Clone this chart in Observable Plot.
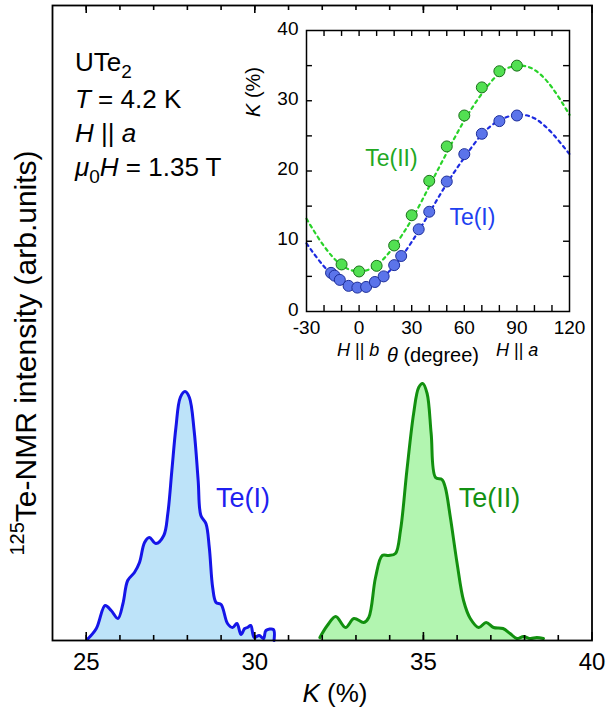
<!DOCTYPE html>
<html><head><meta charset="utf-8">
<script src="https://cdn.jsdelivr.net/npm/d3@7"></script>
<script src="https://cdn.jsdelivr.net/npm/@observablehq/plot@0.6"></script>
<style>
body{margin:0;background:#fff;font-family:Arial,"Liberation Sans",sans-serif;}
#wrap{position:relative;width:607px;height:713px;overflow:hidden}
#main{position:absolute;left:0;top:0}
#inset{position:absolute;left:250px;top:0}
</style></head><body>
<div id="wrap"><div id="main"></div><div id="inset"></div></div>
<script>
// ---- Main spectra (K in %, intensity in arb. units) ----
const te1K = [25.03,25.30,25.56,25.74,25.94,26.09,26.23,26.43,26.58,26.73,26.87,27.07,27.30,27.42,27.54,27.66,27.79,27.93,28.06,28.20,28.32,28.40,28.55,28.65,28.75,28.85,29.00,29.19,29.34,29.47,29.59,29.70,29.78,29.88,29.98,30.13,30.26,30.33,30.55,30.57];
const te1I = [1,12,35,30,22,37,60,68,78,98,103,97,105,127,170,213,243,249,243,210,160,125,117,93,53,38,36,17,13,17,6,12,13,15,3,5,2,10,11,0];
const te2K = [31.93,32.15,32.40,32.69,32.94,33.23,33.38,33.58,33.78,33.97,34.17,34.32,34.51,34.71,34.86,34.98,35.11,35.23,35.36,35.55,35.65,35.80,36.00,36.19,36.39,36.64,36.86,37.08,37.36,37.57,37.77,37.97,38.17,38.36,38.56];
const te2I = [3,15,24,13,22,18,23,63,85,85,87,110,170,227,253,257,247,207,163,161,153,123,77,40,22,13,18,13,12,7,2,4,2,3,2];
const mainTicksMajor = [25,30,35,40];
const mainTicksMinor = [25,26,27,28,29,30,31,32,33,34,35,36,37,38,39];
const specLabels = ["Te(I)","Te(II)"];
const specLabelK = [28.85,36.05];
const specLabelI = [142,142];

// ---- Inset: K vs theta ----
const thetaI = [-16,-14,-11,-6,-1,4,9,14,20,24,34,40,50,60,70,80,90];
const kI = [5.5,5.1,4.5,3.65,3.4,3.5,4.2,5.0,6.6,7.9,11.7,14.2,18.5,22.4,25.3,27.1,27.9];
const thetaII = [-10,0,10,20,30,40,50,60,70,80,90];
const kII = [6.7,5.7,6.5,9.4,13.7,18.6,23.5,27.9,31.9,34.2,35.0];
const fitTheta = [-30,-20,-10,0,10,20,30,40,50,60,70,80,90,100,110,120];
const fitI = [9.7,6.4,4.2,3.4,4.2,6.5,9.9,14.0,18.2,21.9,25.2,27.2,28.0,27.5,25.4,22.4];
const fitII = [13.2,9.3,6.6,5.7,6.6,9.3,13.1,17.8,22.6,27.2,31.0,33.9,35.0,34.4,31.9,28.0];
const insetXTicks = [-30,0,30,60,90,120];
const insetXMinor = [-20,-10,0,10,20,30,40,50,60,70,80,90,100,110];
const insetYTicks = [0,10,20,30,40];
const insetYMinor = [5,10,15,20,25,30,35];
const insetLabels = ["Te(II)","Te(I)"];
const insetLabelTheta = [3.5,51.5];
const insetLabelK = [21.7,13.4];

const spec1 = te1K.map((k,i)=>({k, v:te1I[i]}));
const spec2 = te2K.map((k,i)=>({k, v:te2I[i]}));
const labs = specLabels.map((t,i)=>({t, k:specLabelK[i], v:specLabelI[i], c:i===0?"#1f1ff0":"#139113"}));

const FONT = "Arial, 'Liberation Sans', sans-serif";
const plain = d => String(d);

// main: y scale 0..635 over 635 px; tick lengths in y units
const MY0 = 0, MY1 = 635;
const main = Plot.plot({
  width:607, height:713,
  marginLeft:52, marginRight:15.5, marginTop:5, marginBottom:73,
  x:{domain:[24,40], label:null},
  y:{domain:[MY0,MY1], label:null, axis:null},
  style:{fontFamily:FONT, fontSize:"24px", color:"#000", background:"transparent", overflow:"visible"},
  marks:[
    Plot.areaY(spec1, {x:"k", y:"v", fill:"#bde3f9", curve:"catmull-rom"}),
    Plot.areaY(spec2, {x:"k", y:"v", fill:"#b2f5b0", curve:"catmull-rom"}),
    Plot.lineY(spec1, {x:"k", y:"v", stroke:"#1515e8", strokeWidth:3, curve:"catmull-rom"}),
    Plot.lineY(spec2, {x:"k", y:"v", stroke:"#12900f", strokeWidth:3, curve:"catmull-rom"}),
    Plot.ruleX(mainTicksMinor, {x:d=>d, y1:MY0, y2:MY0+5, stroke:"#000", strokeWidth:1.6}),
    Plot.ruleX(mainTicksMajor, {x:d=>d, y1:MY0, y2:MY0+8, stroke:"#000", strokeWidth:1.6}),
    Plot.ruleX(mainTicksMinor, {x:d=>d, y1:MY1-5, y2:MY1, stroke:"#000", strokeWidth:1.6}),
    Plot.ruleX(mainTicksMajor, {x:d=>d, y1:MY1-8, y2:MY1, stroke:"#000", strokeWidth:1.6}),
    Plot.axisX({anchor:"bottom", ticks:mainTicksMajor, tickSize:0, tickPadding:12, tickFormat:plain, label:null, fontSize:24}),
    Plot.frame({stroke:"#000", strokeWidth:1.8}),
    Plot.text(labs, {x:"k", y:"v", text:"t", fill:"c", fontSize:27, textAnchor:"start"})
  ]
});
document.getElementById("main").appendChild(main);

// Rich text annotations on main svg
const ms = d3.select(main);
const g = ms.append("g").attr("font-family", FONT).attr("font-size", 26).attr("fill","#000").attr("text-anchor","start");
const t1 = g.append("text").attr("x",75).attr("y",71);
t1.append("tspan").text("UTe");
t1.append("tspan").attr("dy",7).attr("font-size",19).text("2");
const t2 = g.append("text").attr("x",75).attr("y",108);
t2.append("tspan").attr("font-style","italic").text("T");
t2.append("tspan").text(" = 4.2 K");
const t3 = g.append("text").attr("x",75).attr("y",142);
t3.append("tspan").attr("font-style","italic").text("H");
t3.append("tspan").text(" || ");
t3.append("tspan").attr("font-style","italic").text("a");
const t4 = g.append("text").attr("x",75).attr("y",176);
t4.append("tspan").attr("font-style","italic").text("μ");
t4.append("tspan").attr("dy",7).attr("font-size",19).text("0");
t4.append("tspan").attr("dy",-7).attr("font-style","italic").text("H");
t4.append("tspan").text(" = 1.35 T");
// y label
const yl = g.append("text").attr("transform","translate(36,353) rotate(-90)").attr("text-anchor","middle").attr("font-size",30);
yl.append("tspan").attr("font-size",20).attr("dy",-12).text("125");
yl.append("tspan").attr("dy",12).text("Te-NMR intensity (arb.units)");
// x label
const xl = g.append("text").attr("x",335).attr("y",702).attr("text-anchor","middle").attr("font-size",26);
xl.append("tspan").attr("font-style","italic").text("K");
xl.append("tspan").text(" (%)");

// ---- Inset ----
const ptsI = thetaI.map((t,i)=>({t, k:kI[i]}));
const ptsII = thetaII.map((t,i)=>({t, k:kII[i]}));
const fI = fitTheta.map((t,i)=>({t, k:fitI[i]}));
const fII = fitTheta.map((t,i)=>({t, k:fitII[i]}));
const ilabs = insetLabels.map((s,i)=>({s, t:insetLabelTheta[i], k:insetLabelK[i], c:i===0?"#22a822":"#2040f0"}));

// inset frame 263 x 281 px: 6 px = 3.4 deg (x) / 0.85 % (y)
const IX0 = -30, IX1 = 120, IY0 = 0, IY1 = 40, TX = 3.4, TY = 0.85;
const inset = Plot.plot({
  width:357, height:370,
  marginLeft:56, marginRight:38, marginTop:30, marginBottom:59,
  x:{domain:[IX0,IX1], label:null},
  y:{domain:[IY0,IY1], label:null},
  style:{fontFamily:FONT, fontSize:"19px", color:"#000", background:"transparent", overflow:"visible"},
  marks:[
    Plot.line(fII, {x:"t", y:"k", stroke:"#2ad32a", strokeWidth:2.2, strokeDasharray:"3,4", curve:"natural"}),
    Plot.line(fI, {x:"t", y:"k", stroke:"#1d2be0", strokeWidth:2.2, strokeDasharray:"3,4", curve:"natural"}),
    Plot.dot(ptsII, {x:"t", y:"k", r:5.5, fill:"#52e052", stroke:"#1a6e1a", strokeWidth:1}),
    Plot.dot(ptsI, {x:"t", y:"k", r:5.5, fill:"#5b74ea", stroke:"#1e2f9a", strokeWidth:1}),
    Plot.ruleX(insetXMinor, {x:d=>d, y1:IY0, y2:IY0+TY, stroke:"#000", strokeWidth:1.4}),
    Plot.ruleX(insetXMinor, {x:d=>d, y1:IY1-TY, y2:IY1, stroke:"#000", strokeWidth:1.4}),
    Plot.ruleY(insetYMinor, {y:d=>d, x1:IX0, x2:IX0+TX, stroke:"#000", strokeWidth:1.4}),
    Plot.ruleY(insetYMinor, {y:d=>d, x1:IX1-TX, x2:IX1, stroke:"#000", strokeWidth:1.4}),
    Plot.axisX({anchor:"bottom", ticks:insetXTicks, tickSize:0, tickPadding:9, tickFormat:plain, label:null, fontSize:19}),
    Plot.axisY({anchor:"left", ticks:insetYTicks, tickSize:0, tickPadding:8, tickFormat:plain, label:null, fontSize:19, dy:-2}),
    Plot.frame({stroke:"#000", strokeWidth:1.5}),
    Plot.text(ilabs, {x:"t", y:"k", text:"s", fill:"c", fontSize:23, textAnchor:"start"})
  ]
});
document.getElementById("inset").appendChild(inset);
const is = d3.select(inset);
const gi = is.append("g").attr("font-family", FONT).attr("font-size", 20).attr("fill","#000").attr("text-anchor","start");
const iy = gi.append("text").attr("transform","translate(10,92) rotate(-90)").attr("text-anchor","middle");
iy.append("tspan").attr("font-style","italic").text("K");
iy.append("tspan").text(" (%)");
const hb = gi.append("text").attr("x",87).attr("y",356).attr("font-size",18);
hb.append("tspan").attr("font-style","italic").text("H");
hb.append("tspan").text(" || ");
hb.append("tspan").attr("font-style","italic").text("b");
const th = gi.append("text").attr("x",137).attr("y",362).attr("font-size",20);
th.append("tspan").attr("font-style","italic").text("θ");
th.append("tspan").text(" (degree)");
const ha = gi.append("text").attr("x",246).attr("y",356).attr("font-size",18);
ha.append("tspan").attr("font-style","italic").text("H");
ha.append("tspan").text(" || ");
ha.append("tspan").attr("font-style","italic").text("a");
</script>
</body></html>
